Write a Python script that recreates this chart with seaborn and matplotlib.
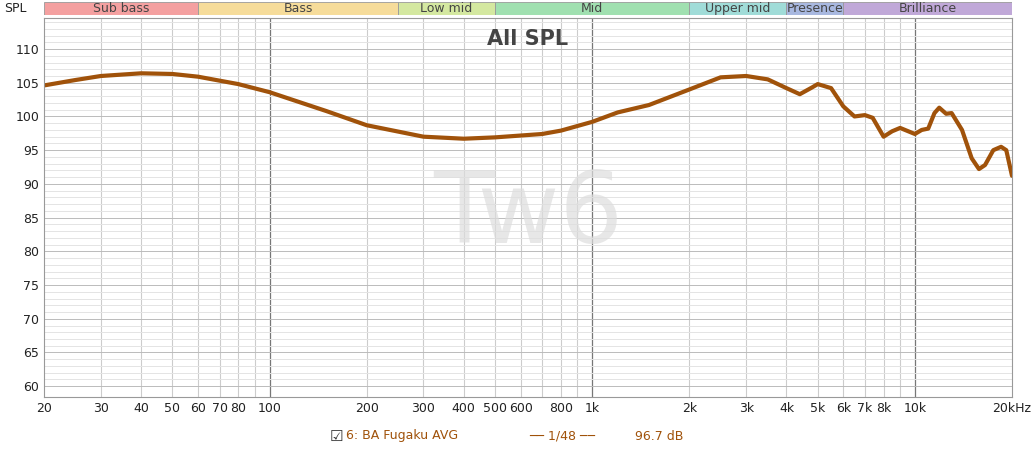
import matplotlib.pyplot as plt
import matplotlib.patches as mpatches
import seaborn as sns
import pandas as pd
import numpy as np

freq = [20, 25, 30, 40, 50, 60, 80, 100, 150, 200, 300, 400, 500, 700, 800, 1000, 1200, 1500,
        2000, 2500, 3000, 3500, 4000, 4400, 4800, 5000, 5500, 6000, 6500, 7000, 7400, 8000, 8500,
        9000, 10000, 10500, 11000, 11500, 11900, 12500, 13000, 14000, 15000, 15800, 16500,
        17500, 18500, 19200, 20000]
spl = [104.6, 105.4, 106.0, 106.4, 106.3, 105.9, 104.8, 103.6, 100.8, 98.7, 97.0, 96.7, 96.9,
       97.4, 97.9, 99.2, 100.6, 101.7, 104.0, 105.8, 106.0, 105.5, 104.2, 103.3, 104.3, 104.8,
       104.2, 101.5, 100.0, 100.2, 99.8, 97.0, 97.8, 98.3, 97.4, 98.0, 98.2, 100.5, 101.3, 100.4,
       100.5, 98.0, 93.8, 92.2, 92.8, 95.0, 95.5, 95.0, 91.2]

band_names = ["Sub bass", "Bass", "Low mid", "Mid", "Upper mid", "Presence", "Brilliance"]
band_edges = [20, 60, 250, 500, 2000, 4000, 6000, 20000]
band_colors = ["#f4a0a0", "#f6dc9a", "#d4e8a0", "#a0e0b0", "#a0dcd8", "#a8b8e0", "#c0a8d8"]

xticks = [20, 30, 40, 50, 60, 70, 80, 100, 200, 300, 400, 500, 600, 800, 1000, 2000, 3000,
          4000, 5000, 6000, 7000, 8000, 10000, 20000]
xlabels = ["20", "30", "40", "50", "60", "70", "80", "100", "200", "300", "400", "500", "600",
           "800", "1k", "2k", "3k", "4k", "5k", "6k", "7k", "8k", "10k", "20kHz"]

line_color = "#a0520a"

sns.set_style("white")
plt.rcParams['font.family'] = ['DejaVu Sans']
fig = plt.figure(figsize=(10.33, 4.5), dpi=100)
ax = fig.add_axes([44 / 1033, 1 - 397 / 450, (1012 - 44) / 1033, (397 - 18) / 450])

df = pd.DataFrame({"freq": freq, "spl": spl})
ax.set_xscale("log")
ax.set_xlim(20, 20000)
ax.set_ylim(58.4, 114.6)

# grid
minor = [f * m for m in [10, 100, 1000, 10000] for f in range(2, 10)] + [20, 30, 40, 50, 60, 70, 80, 90]
for f in sorted(set(minor)):
    if 20 < f < 20000:
        ax.axvline(f, color="#cccccc", lw=0.8, zorder=0)
for f in [100, 1000, 10000]:
    ax.axvline(f, color="#777777", lw=0.9, zorder=0)
for y in np.arange(60, 115, 1):
    ax.axhline(y, color="#e4e4e4" if y % 5 else "#bbbbbb", lw=0.7, zorder=0)

sns.lineplot(data=df, x="freq", y="spl", ax=ax, color=line_color, lw=3)

ax.set_xticks(xticks)
ax.set_xticklabels(xlabels, fontsize=9)
ax.xaxis.set_minor_locator(plt.NullLocator())
ax.set_yticks(range(60, 115, 5))
ax.tick_params(labelsize=9, length=0, colors="#222222")
ax.set_xlabel("")
ax.set_ylabel("")
for s in ax.spines.values():
    s.set_color("#999999")

ax.text(0.5, 0.97, "All SPL", transform=ax.transAxes, ha="center", va="top",
        fontsize=15, fontweight="bold", color="#444444")
ax.text(0.5, 0.48, "Tw6", transform=ax.transAxes, ha="center", va="center",
        fontsize=72, color="#dddddd", alpha=0.7, zorder=0)

# band bar
bar = fig.add_axes([44 / 1033, 1 - 15 / 450, (1012 - 44) / 1033, 13 / 450])
bar.set_xscale("log")
bar.set_xlim(20, 20000)
bar.set_ylim(0, 1)
bar.axis("off")
for name, lo, hi, c in zip(band_names, band_edges[:-1], band_edges[1:], band_colors):
    bar.add_patch(mpatches.Rectangle((lo, 0), hi - lo, 1, facecolor=c, edgecolor="#999999", lw=0.6))
    bar.text(np.sqrt(lo * hi), 0.5, name, ha="center", va="center", fontsize=9, color="#444444")
fig.text(4 / 1033, 1 - 9 / 450, "SPL", fontsize=9, va="center", color="#222222")

# legend row
fig.text(330 / 1033, 1 - 436 / 450, "\u2611", fontsize=11, va="center", color="#333333")
fig.text(346 / 1033, 1 - 436 / 450, "6: BA Fugaku AVG", fontsize=9, va="center", color=line_color)
fig.text(562 / 1033, 1 - 436 / 450, "\u2500\u2500 1/48 \u2500\u2500", fontsize=9, va="center",
         ha="center", color=line_color)
fig.text(635 / 1033, 1 - 436 / 450, "96.7 dB", fontsize=9, va="center", color=line_color)

fig.savefig("out.png", dpi=100)
